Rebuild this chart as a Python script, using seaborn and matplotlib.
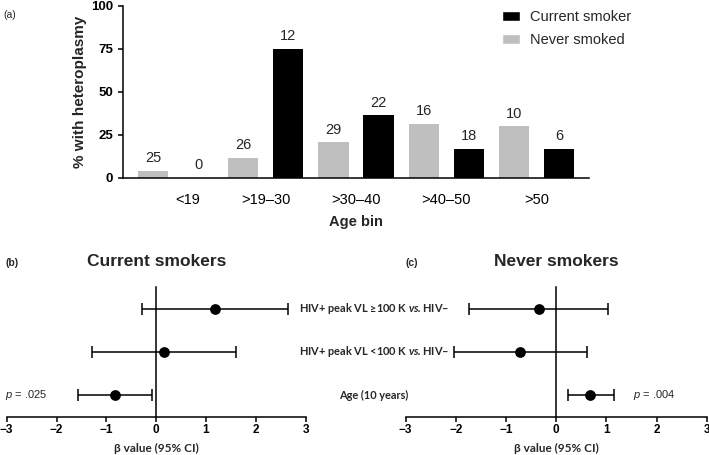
import matplotlib
matplotlib.use('Agg')
import matplotlib.pyplot as plt
import matplotlib.transforms as mtransforms
from matplotlib.patches import Patch
import numpy as np
import pandas as pd
import seaborn as sns

# (a) heteroplasmy by age bin
age_bins = ['<19', '>19–30', '>30–40', '>40–50', '>50']
pct_never = [4, 11.5, 20.7, 31.3, 30]
pct_current = [0, 75, 36.4, 16.7, 16.7]
n_never = [25, 26, 29, 16, 10]
n_current = [0, 12, 22, 18, 6]

# (b) / (c) beta estimates
rows = ['HIV+ peak VL ≥100 K $\\mathbfit{vs.}$HIV–',
        'HIV+ peak VL <100 K $\\mathbfit{vs.}$HIV–',
        'Age (10 years)']
cur_est = [1.18, 0.16, -0.83]
cur_lo = [-0.28, -1.29, -1.56]
cur_hi = [2.65, 1.60, -0.09]
nev_est = [-0.35, -0.72, 0.68]
nev_lo = [-1.73, -2.03, 0.23]
nev_hi = [1.03, 0.61, 1.16]

sns.set_theme(style='ticks')
plt.rcParams['font.family'] = ['Liberation Sans', 'DejaVu Sans']
plt.rcParams['mathtext.fontset'] = 'custom'
plt.rcParams['mathtext.it'] = 'Liberation Sans:italic'
plt.rcParams['mathtext.bfit'] = 'Lato:italic:bold'
W, H = 709, 455
lato = ['Lato', 'DejaVu Sans']

fig = plt.figure(figsize=(7.09, 4.55), dpi=100)

# ---- panel (a)
ax = fig.add_axes([123 / W, 1 - 177.7 / H, 466 / W, 172 / H])
df = pd.DataFrame({'age': age_bins * 2,
                   'group': ['Never smoked'] * 5 + ['Current smoker'] * 5,
                   'pct': pct_never + pct_current})
palette = {'Never smoked': '#bfbfbf', 'Current smoker': 'black'}
sns.barplot(data=df, x='age', y='pct', hue='group',
            hue_order=['Never smoked', 'Current smoker'], palette=palette,
            width=1.0, gap=0.33, errorbar=None, legend=False, saturation=1,
            linewidth=0, ax=ax)
for cont, n in zip(ax.containers, [n_never, n_current]):
    ax.bar_label(cont, labels=[str(v) for v in n], padding=4, fontsize=10.5)
ax.set_ylim(0, 100)
ax.set_yticks([0, 25, 50, 75, 100])
ax.set_xlim(-0.583, 4.583)
sns.despine(ax=ax)
for s in ['left', 'bottom']:
    ax.spines[s].set_linewidth(1.1)
    ax.spines[s].set_color('black')
ax.tick_params(axis='x', length=0, pad=11, labelsize=10.5, colors='black')
ax.tick_params(axis='y', length=3.5, width=1.1, labelsize=9.5, colors='black')
for t in ax.get_yticklabels():
    t.set_fontweight('bold')
ax.get_xticklabels()[0].set_transform(
    ax.get_xticklabels()[0].get_transform()
    + mtransforms.ScaledTranslation(0.12, 0, fig.dpi_scale_trans))
ax.set_ylabel('% with heteroplasmy', fontsize=11, fontweight='bold', labelpad=3)
ax.set_xlabel('Age bin', fontsize=10.5, fontweight='bold', labelpad=6)

handles = [Patch(facecolor='black', label='Current smoker'),
           Patch(facecolor='#bfbfbf', label='Never smoked')]
fig.legend(handles=handles, loc='upper left', bbox_to_anchor=(502 / W, 1 - 10 / H),
           frameon=False, fontsize=10.5, borderpad=0, borderaxespad=0,
           handlelength=1.25, handleheight=0.7, handletextpad=0.7, labelspacing=0.6)
fig.text(3 / W, 1 - 15 / H, '(a)', fontsize=7.5, va='center')

# ---- panels (b) and (c)
ax_b = fig.add_axes([6.7 / W, 1 - 416.7 / H, 299 / W, 129.7 / H])
ax_c = fig.add_axes([405.7 / W, 1 - 416.7 / H, 301 / W, 129.7 / H])
ypos = np.arange(len(rows))[::-1]
for a, est, lo, hi, title in [(ax_b, cur_est, cur_lo, cur_hi, 'Current smokers'),
                              (ax_c, nev_est, nev_lo, nev_hi, 'Never smokers')]:
    a.errorbar(est, ypos, xerr=[np.subtract(est, lo), np.subtract(hi, est)],
               fmt='none', ecolor='black', elinewidth=1.1, capsize=4, capthick=1.1)
    sns.scatterplot(x=est, y=ypos, ax=a, color='black', s=60, linewidth=0, zorder=3)
    a.set_xlim(-3, 3)
    a.set_ylim(-0.5, 2.5)
    a.set_xticks(range(-3, 4))
    a.set_yticks([])
    a.spines['left'].set_position(('data', 0))
    a.spines['top'].set_visible(False)
    a.spines['right'].set_visible(False)
    for s in ['left', 'bottom']:
        a.spines[s].set_linewidth(1.1)
        a.spines[s].set_color('black')
    a.tick_params(axis='x', length=3.5, width=1.1, labelsize=8.5, pad=2, colors='black')
    for t in a.get_xticklabels():
        t.set_fontweight('bold')
    a.set_xlabel('β value (95% CI)', fontsize=8.5, fontweight='bold',
                 family=lato, labelpad=5)
    a.text(0.5, 1.195, title, transform=a.transAxes, ha='center', va='center',
           fontsize=12.5, fontweight='bold')

fig.text(12.5 / W, 1 - 263 / H, '(b)', fontsize=7.5, fontweight='bold', ha='center', va='center')
fig.text(412 / W, 1 - 263 / H, '(c)', fontsize=7.5, fontweight='bold', ha='center', va='center')

trans = mtransforms.blended_transform_factory(fig.transFigure, ax_b.transData)
for y, lab in zip(ypos, rows):
    fig.text(374 / W, y, lab, transform=trans, ha='center', va='center',
             fontsize=7.9, fontweight='bold', family=lato)

ax_b.text(-3.03, ypos[-1], '$p$ = .025', ha='left', va='center', fontsize=8)
ax_c.text(1.53, ypos[-1], '$p$ = .004', ha='left', va='center', fontsize=8)

fig.savefig('out.png', dpi=100)
